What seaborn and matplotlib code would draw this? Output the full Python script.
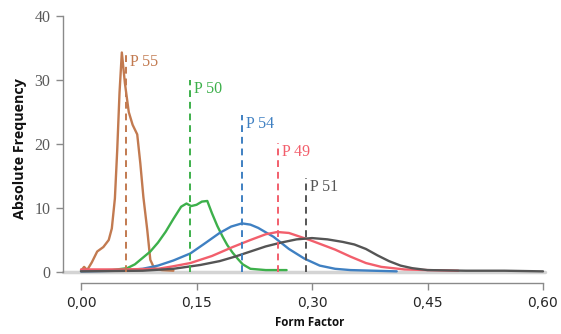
import matplotlib
matplotlib.use("Agg")
import matplotlib.pyplot as plt
import seaborn as sns
import pandas as pd

# ---- data ----
series_names = ["P 55", "P 50", "P 54", "P 49", "P 51"]

p55_x = [0.000, 0.004, 0.008, 0.014, 0.021, 0.029, 0.036, 0.040, 0.044, 0.047, 0.050, 0.053,
         0.057, 0.062, 0.067, 0.073, 0.077, 0.081, 0.086, 0.090, 0.095, 0.105, 0.120]
p55_y = [0.2, 0.8, 0.3, 1.5, 3.2, 3.9, 5.0, 6.8, 11.5, 19.0, 28.0, 34.3,
         29.5, 25.0, 23.0, 21.5, 17.0, 11.7, 6.6, 1.9, 0.6, 0.3, 0.2]

p50_x = [0.000, 0.040, 0.060, 0.070, 0.080, 0.090, 0.100, 0.110, 0.120, 0.130, 0.137, 0.143,
         0.150, 0.157, 0.164, 0.170, 0.177, 0.184, 0.190, 0.197, 0.204, 0.210, 0.220, 0.240, 0.267]
p50_y = [0.2, 0.3, 0.6, 1.2, 2.2, 3.2, 4.6, 6.3, 8.3, 10.2, 10.7, 10.3,
         10.5, 11.0, 11.1, 9.2, 7.2, 5.5, 4.2, 3.0, 2.0, 1.2, 0.5, 0.3, 0.3]

p54_x = [0.000, 0.050, 0.080, 0.100, 0.120, 0.142, 0.160, 0.180, 0.195, 0.209, 0.220, 0.230,
         0.250, 0.270, 0.290, 0.310, 0.330, 0.350, 0.380, 0.410]
p54_y = [0.1, 0.2, 0.5, 1.0, 1.8, 2.9, 4.4, 6.1, 7.1, 7.6, 7.4, 6.9,
         5.5, 3.6, 2.1, 1.0, 0.5, 0.3, 0.2, 0.1]

p49_x = [0.000, 0.050, 0.100, 0.120, 0.142, 0.170, 0.197, 0.220, 0.240, 0.255, 0.270, 0.297,
         0.330, 0.350, 0.370, 0.390, 0.420, 0.450, 0.490]
p49_y = [0.4, 0.4, 0.5, 0.9, 1.4, 2.5, 3.9, 5.0, 5.9, 6.25, 6.1, 5.0,
         3.5, 2.4, 1.4, 0.8, 0.4, 0.3, 0.2]

p51_x = [0.000, 0.080, 0.120, 0.155, 0.180, 0.200, 0.220, 0.240, 0.260, 0.280, 0.300, 0.320,
         0.340, 0.355, 0.370, 0.385, 0.400, 0.415, 0.430, 0.450, 0.500, 0.550, 0.600]
p51_y = [0.1, 0.2, 0.5, 1.1, 1.7, 2.4, 3.2, 4.0, 4.6, 5.1, 5.3, 5.1,
         4.7, 4.3, 3.6, 2.6, 1.7, 1.0, 0.6, 0.3, 0.2, 0.2, 0.1]

marker_x = [0.058, 0.1416, 0.209, 0.256, 0.292]   # dashed line positions
marker_top = [34.2, 30.0, 24.5, 20.1, 14.7]        # dashed line heights

x_ticks = [0.00, 0.15, 0.30, 0.45, 0.60]
x_ticklabels = ["0,00", "0,15", "0,30", "0,45", "0,60"]
y_ticks = [0, 10, 20, 30, 40]

colors = ["#c27a50", "#3db04b", "#3f80c2", "#f25f6c", "#555555"]

# ---- build table ----
xs = [p55_x, p50_x, p54_x, p49_x, p51_x]
ys = [p55_y, p50_y, p54_y, p49_y, p51_y]
rows = []
for name, xv, yv in zip(series_names, xs, ys):
    for a, b in zip(xv, yv):
        rows.append({"series": name, "ff": a, "freq": b})
df = pd.DataFrame(rows)

sns.set_style("white")
fig = plt.figure(figsize=(5.61, 3.34), dpi=100)
ax = fig.add_axes([63 / 561, (334 - 272) / 334, (545 - 63) / 561, (272 - 16) / 334])

ax.axhline(0, color="#d4d4d4", lw=2.5, zorder=0)

sns.lineplot(data=df, x="ff", y="freq", hue="series", hue_order=series_names,
             palette=dict(zip(series_names, colors)), sort=True, estimator=None,
             lw=1.7, legend=False, ax=ax, zorder=3)
for line in ax.lines:
    line.set_clip_on(False)

for name, xm, top, c in zip(series_names, marker_x, marker_top, colors):
    ax.vlines(xm, 0, top, colors=c, linestyles=(0, (3.5, 2.5)), lw=1.4, zorder=4)
    ax.text(xm + 0.005, top - 1.4, name, color=c, fontsize=11.5,
            family="Liberation Serif", va="center", ha="left")

ax.set_xlim(-0.0234, 0.6026)
ax.set_ylim(0, 40)

ax.set_xticks(x_ticks)
ax.set_xticklabels(x_ticklabels)
ax.set_yticks(y_ticks)
for lab in ax.get_xticklabels() + ax.get_yticklabels():
    lab.set_family("Liberation Serif")
    lab.set_fontsize(11.5)
    lab.set_color("#5a5a5a")

sns.despine(ax=ax)
ax.spines["bottom"].set_position(("outward", 8))
ax.spines["bottom"].set_bounds(0.0, 0.6)
ax.spines["left"].set_bounds(0, 40)
for s in ["bottom", "left"]:
    ax.spines[s].set_color("#8a8a8a")
    ax.spines[s].set_linewidth(1.0)
ax.tick_params(axis="both", which="both", direction="out", length=5, width=1.0,
               color="#8a8a8a", left=True, bottom=True, pad=4)

ax.set_xlabel("")
ax.set_ylabel("")
fig.text(310 / 561, 1 - 323 / 334, "Form Factor", ha="center", va="center",
         fontsize=8.3, fontweight="bold", family="Open Sans", color="#111111")
fig.text(20 / 561, 1 - 149 / 334, "Absolute Frequency", ha="center", va="center",
         rotation=90, fontsize=10.3, fontweight="bold", family="Open Sans", color="#111111")

fig.savefig("out.png", dpi=100)
